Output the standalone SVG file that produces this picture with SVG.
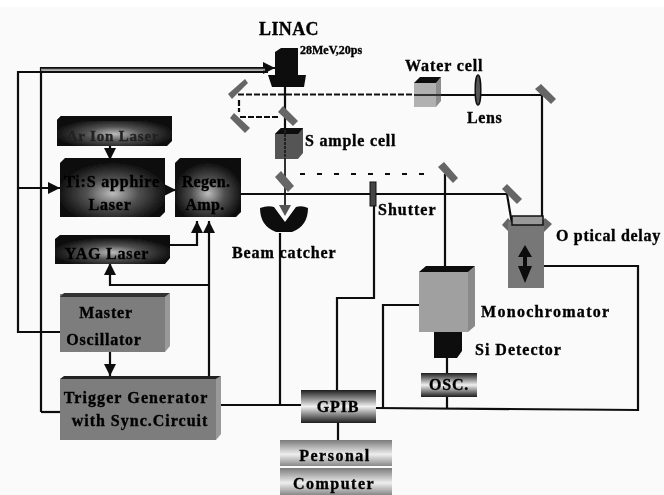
<svg xmlns="http://www.w3.org/2000/svg" width="664" height="495" viewBox="0 0 664 495">
<style>
text{font-family:"Liberation Serif","Times New Roman",serif;font-weight:bold;font-size:16px;fill:#000;stroke:#000;stroke-width:.35px;letter-spacing:.8px}
.c{text-anchor:middle}
.d{fill:none;stroke:#111;stroke-width:2.200}
.t{stroke-dasharray:6 2}
.m{fill:#666}
.g{fill:#8a8a8a}
.k{fill:#0c0c0c}
</style>
<defs>
<radialGradient id="dk" cx="50%" cy="60%" r="55%"><stop offset="0" stop-color="#bdbdbd"/><stop offset=".45" stop-color="#505050"/><stop offset="1" stop-color="#080808"/></radialGradient>
<linearGradient id="band" x1="0" y1="0" x2="0" y2="1"><stop offset="0" stop-color="#1c1c1c"/><stop offset=".5" stop-color="#f0f0f0"/><stop offset="1" stop-color="#1c1c1c"/></linearGradient>
<linearGradient id="pc" x1="0" y1="0" x2="0" y2="1"><stop offset="0" stop-color="#7a7a7a"/><stop offset=".55" stop-color="#eee"/><stop offset="1" stop-color="#888"/></linearGradient>
<marker id="a" markerWidth="14" markerHeight="12" refX="12" refY="6" orient="auto" markerUnits="userSpaceOnUse"><path d="M0 0L12 6L0 12Z" fill="#111"/></marker>
<filter id="b" x="-2%" y="-2%" width="104%" height="104%"><feGaussianBlur stdDeviation="0.5"/></filter>
</defs>
<rect width="664" height="495" fill="#fafafa"/>
<rect width="664" height="7" fill="#fff"/>
<g filter="url(#b)">
<g id="connectors">
<path class="d" d="M41 412V68H275" marker-end="url(#a)"/>
<path d="M41 69.800H265" stroke="#999" stroke-width="2"/>
<path class="d" d="M60 332H18V72H268"/>
<path class="d" d="M18 188H60" marker-end="url(#a)"/>
<path class="d" d="M41 412H60"/>
<path class="d" d="M110 146V160" marker-end="url(#a)"/>
<path class="d" d="M165 190H176" marker-end="url(#a)"/>
<path class="d" d="M170 245H197V221" marker-end="url(#a)"/>
<path class="d" d="M209 376V221" marker-end="url(#a)"/>
<path class="d" d="M209 285H110V263" marker-end="url(#a)"/>
<path class="d" d="M110 352V376" marker-end="url(#a)"/>
<path class="d" d="M212 405H303"/>
<path class="d" d="M280 233V405"/>
<path class="d" d="M285 87V128"/>
<path d="M285 159V214" stroke="#333" stroke-width="2" fill="none"/>
<path d="M279 205H291L285 216Z" fill="#555"/>
<path class="d t" d="M238 94.500H420"/>
<path class="d" d="M420 95H542V222"/>
<path class="d t" d="M239 100V112"/>
<path class="d t" d="M240 117H280"/>
<path class="d" stroke-dasharray="5 12" d="M300 174H435"/>
<path class="d" d="M241 194H507L512 224H541"/>
<path class="d" d="M445 174V266"/>
<path class="d" d="M374 182V298H337V390"/>
<path class="d" d="M419 305H383V408"/>
<path class="d" d="M376 408L638 410V266H541"/>
<path class="d" d="M447 358V373M447 397V409"/>
<path class="d" d="M338 423V440"/>
</g>
<g id="linac"><path class="k" d="M275 52L281 48H298V75H306L304 87H272L268 75H275Z"/><text x="259" y="35" style="font-size:18px;letter-spacing:.4px">LINAC</text><text x="300" y="54" style="font-size:12px;letter-spacing:0">28MeV,20ps</text></g>
<g id="mirrors" class="m">
<path d="M228 94L245 79L248 83L232 99Z"/>
<path d="M230 118L234 113L250 128L245 133Z"/>
<path d="M278 112L283 106L298 121L293 126Z"/>
<path d="M275 177L281 171L294 186L288 192Z"/>
<path d="M438 167L444 162L458 178L453 183Z"/>
<path d="M502 189L507 184L522 199L517 204Z"/>
<path d="M535 89L541 84L556 99L551 104Z"/>
<path d="M502 225L508 218L516 228L510 233Z"/>
<path d="M545 218L552 224L540 236L534 230Z"/>
</g>
<g id="sample-cell"><path fill="#555" d="M275 134L281 128H303V153L298 159H275Z"/><path class="k" d="M281 128H303L298 134H275Z"/><path d="M285 130V159" stroke="#222" stroke-width="2" stroke-dasharray="3 1"/><text x="305" y="146" style="letter-spacing:.8px">S ample cell</text></g>
<g id="water-cell"><path fill="#b0b0b0" d="M414 83H436V107H414Z"/><path fill="#8c8c8c" d="M436 83L441 77V101L436 107Z"/><path class="k" d="M414 83L420 77H441L436 83Z"/><text x="405" y="71" style="letter-spacing:.9px">Water cell</text><path d="M414 95H441" stroke="#333" stroke-width="2"/></g>
<g id="lens"><ellipse cx="478" cy="90" rx="2.800" ry="15" fill="#555" stroke="#111" stroke-width="1.500"/><text x="467" y="123" style="letter-spacing:.6px">Lens</text></g>
<g id="ar-ion"><path fill="url(#dk)" d="M57 120L61 116H172V141L167 146H57Z"/><path class="k" d="M57 120L61 116H172L168 121H57Z"/><text class="c" x="113" y="141" style="font-size:15px;fill:#222;stroke:#222">Ar Ion Laser</text></g>
<g id="ti-sapphire"><path fill="url(#dk)" d="M60 163L65 158H165V212L160 217H60Z"/><text class="c" x="112" y="187">Ti:S apphire</text><text class="c" x="110" y="210">Laser</text></g>
<g id="regen"><path fill="url(#dk)" d="M175 163L180 158H241V212L236 217H175Z"/><text class="c" x="206" y="187" style="letter-spacing:.3px">Regen.</text><text class="c" x="205" y="210" style="letter-spacing:.3px">Amp.</text></g>
<g id="yag"><path fill="url(#dk)" d="M55 239L60 235H170V258L165 264H55Z"/><text class="c" x="107" y="259">YAG Laser</text></g>
<g id="beam-catcher"><path class="k" d="M260 208Q268 205 274 207L285 222L296 207Q302 205 308 208Q308 226 292 232H276Q260 226 260 208Z"/><text x="232" y="258" style="letter-spacing:.9px">Beam catcher</text></g>
<g id="shutter"><rect x="370" y="182" width="6" height="24" fill="#444" stroke="#111"/><text x="378" y="215" style="letter-spacing:1px">Shutter</text></g>
<g id="optical-delay"><path fill="#777" d="M508 222H544V288H508Z"/><path fill="#999" d="M512 216H543V225H512Z" stroke="#111" stroke-width="1.500"/><path class="k" d="M525 245L518 257H523V266H518L525 283L532 266H527V257H532Z"/><text x="556" y="241" style="letter-spacing:.7px">O ptical delay</text></g>
<g id="monochromator"><path fill="#a0a0a0" d="M419 272H468V332H419Z"/><path fill="#8a8a8a" d="M468 272L475 266V326L468 332Z"/><path class="k" d="M419 272L426 266H475L468 272Z"/><text x="481" y="317" style="letter-spacing:1.300px">Monochromator</text></g>
<g id="si-detector"><path class="k" d="M434 332H462V351L457 358H434Z"/><text x="475" y="355" style="letter-spacing:1px">Si Detector</text></g>
<g id="osc"><rect x="421" y="373" width="56" height="24" fill="url(#band)"/><text class="c" x="449" y="390" style="letter-spacing:.8px">OSC.</text></g>
<g id="master"><path fill="#7d7d7d" d="M60 294H165V352H60Z"/><path fill="#999" d="M165 297L170 293V346L165 352Z"/><path d="M60 297L64 293H170L165 297Z" fill="#333"/><text class="c" x="106" y="318">Master</text><text class="c" x="104" y="345">Oscillator</text></g>
<g id="trigger"><path fill="#7d7d7d" d="M60 379H216V440H60Z"/><path fill="#999" d="M216 379L221 376V434L216 440Z"/><path d="M60 379L64 376H221L216 379Z" fill="#222"/><text class="c" x="136" y="403" style="letter-spacing:1.100px">Trigger Generator</text><text class="c" x="140" y="426" style="letter-spacing:1px">with Sync.Circuit</text></g>
<g id="gpib"><rect x="301" y="390" width="75" height="33" fill="url(#band)"/><text class="c" x="338" y="412">GPIB</text></g>
<g id="pc"><rect x="280" y="440" width="112" height="26" fill="url(#pc)"/><rect x="280" y="468" width="112" height="27" fill="url(#pc)"/><text class="c" x="335" y="461" style="letter-spacing:1.500px">Personal</text><text class="c" x="334" y="489" style="letter-spacing:1.500px">Computer</text></g>
</g>
</svg>
